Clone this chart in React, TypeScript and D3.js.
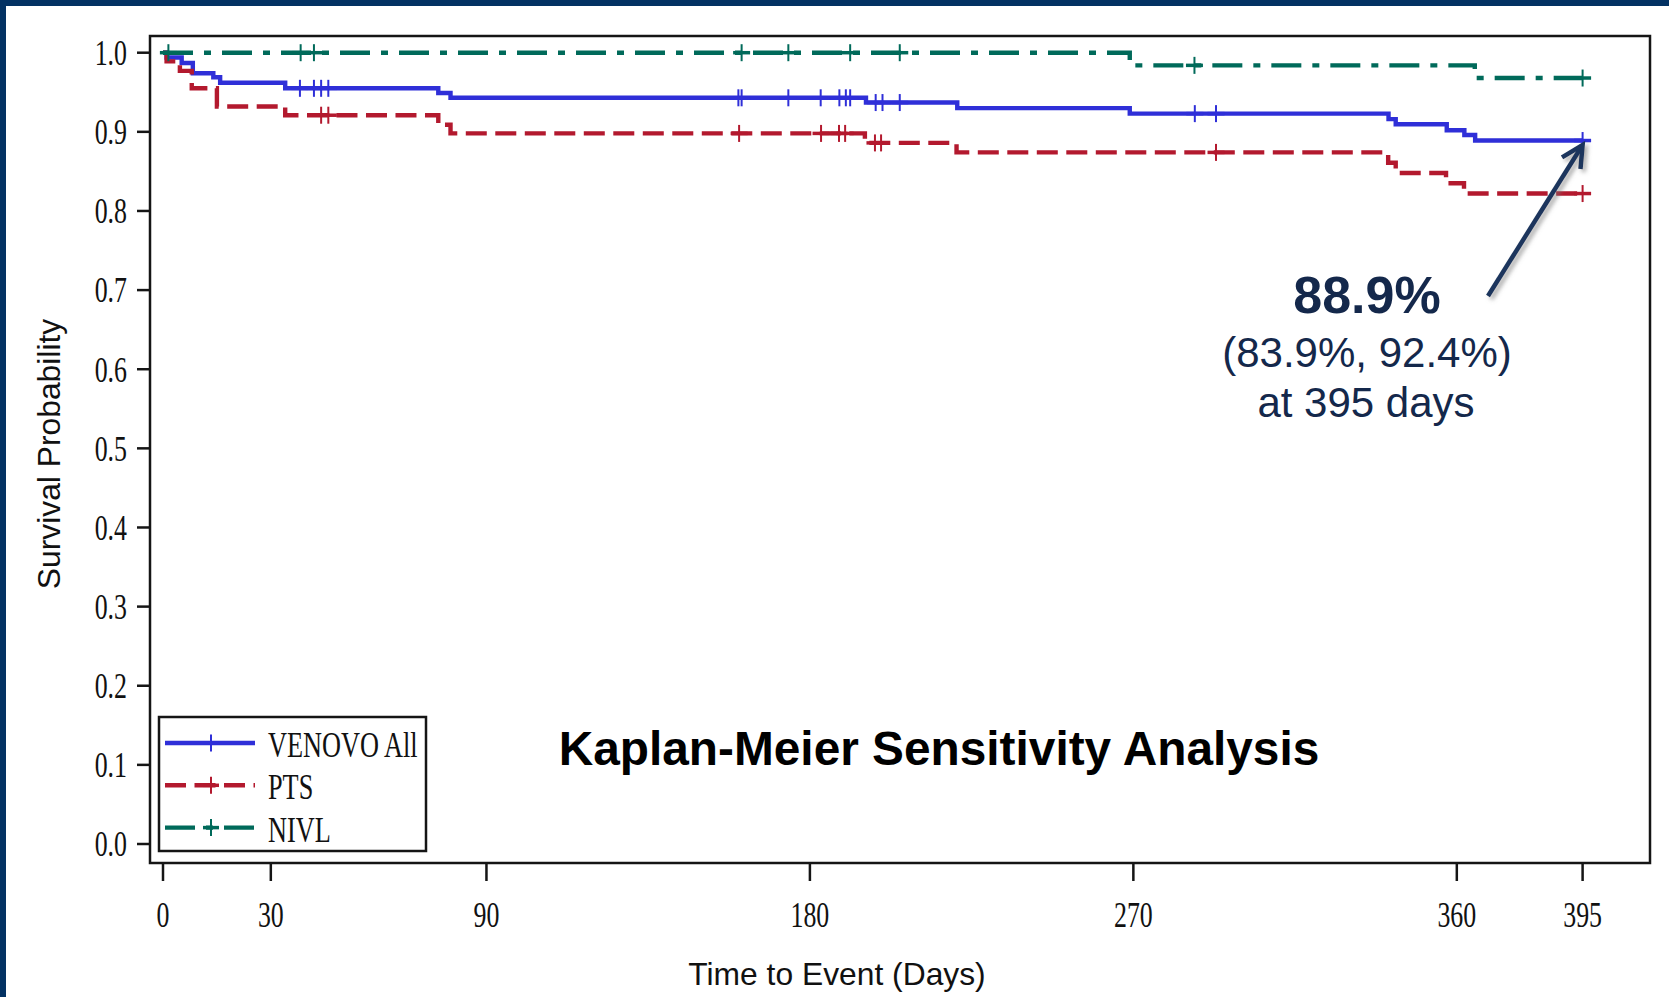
import * as d3 from "d3";
import {useEffect, useRef} from "react";

const W = 1669;
const H = 997;

const xTicks = [0, 30, 90, 180, 270, 360, 395];
const yTicks = [0, 0.1, 0.2, 0.3, 0.4, 0.5, 0.6, 0.7, 0.8, 0.9, 1.0];

// VENOVO All
const venovoDays = [0, 1, 5.2, 8.3, 14, 15.9, 34, 76.6, 80, 195.6, 221, 269, 341, 343, 357.2, 362.1, 365.1, 395];
const venovoSurv = [1, 0.994, 0.987, 0.974, 0.969, 0.962, 0.955, 0.949, 0.943, 0.937, 0.930, 0.923, 0.916, 0.9095, 0.902, 0.896, 0.889, 0.889];
const venovoCensor = [38.1, 42, 44, 46, 160.1, 161, 174, 183, 188.2, 190, 191.2, 198.3, 200.2, 205, 287.1, 293, 395];

// PTS
const ptsDays = [0, 1, 4.7, 8, 15, 34, 76.6, 80, 195.3, 220.8, 340.9, 343, 357, 362, 395];
const ptsSurv = [1, 0.989, 0.977, 0.955, 0.932, 0.921, 0.909, 0.898, 0.886, 0.874, 0.861, 0.848, 0.835, 0.822, 0.822];
const ptsCensor = [44, 46, 160.3, 183.1, 188.1, 189.8, 198.1, 199.8, 293, 395];

// NIVL
const nivlDays = [0, 269, 365, 395];
const nivlSurv = [1, 0.984, 0.968, 0.968];
const nivlCensor = [1.5, 38.3, 42, 161, 174, 191.2, 205, 287, 395];

const series = [
    {name: "VENOVO All", days: venovoDays, surv: venovoSurv, censor: venovoCensor, color: "#2f2fd8", dash: null},
    {name: "PTS", days: ptsDays, surv: ptsSurv, censor: ptsCensor, color: "#b3192e", dash: "21 8.5"},
    {name: "NIVL", days: nivlDays, surv: nivlSurv, censor: nivlCensor, color: "#006a5a", dash: "30 11 7 11"},
];

const App = () => {
    const chartRef = useRef(null);

    useEffect(() => {
        const svg = d3.select(chartRef.current);
        svg.selectAll("*").remove();

        const frame = {left: 150, top: 36, right: 1650, bottom: 863};
        const x = d3.scaleLinear().domain([0, 395]).range([163, 1582.6]);
        const y = d3.scaleLinear().domain([0, 1]).range([844, 52.7]);

        // background
        svg.append("rect").attr("width", W).attr("height", H).attr("fill", "#033263");
        svg.append("rect").attr("x", 6).attr("y", 6).attr("width", W - 6).attr("height", H - 6).attr("fill", "#fff");

        const defs = svg.append("defs");
        defs.append("filter").attr("id", "shadow")
            .attr("x", "-20%").attr("y", "-20%").attr("width", "140%").attr("height", "140%")
            .append("feDropShadow")
            .attr("dx", 3).attr("dy", 3).attr("stdDeviation", 2)
            .attr("flood-color", "#777").attr("flood-opacity", 0.6);

        svg.append("rect")
            .attr("x", frame.left).attr("y", frame.top)
            .attr("width", frame.right - frame.left).attr("height", frame.bottom - frame.top)
            .attr("fill", "none").attr("stroke", "#151515").attr("stroke-width", 2.5);

        // y axis
        const yg = svg.append("g");
        yTicks.forEach(t => {
            yg.append("line")
                .attr("x1", 137).attr("x2", frame.left)
                .attr("y1", y(t)).attr("y2", y(t))
                .attr("stroke", "#151515").attr("stroke-width", 2.5);
            yg.append("text")
                .attr("transform", `translate(127, ${y(t) + 12.3}) scale(0.74, 1)`)
                .attr("text-anchor", "end")
                .attr("font-family", "Liberation Serif, serif")
                .attr("font-size", 35)
                .attr("fill", "#111")
                .text(t.toFixed(1));
        });

        // x axis
        const xg = svg.append("g");
        xTicks.forEach(t => {
            xg.append("line")
                .attr("x1", x(t)).attr("x2", x(t))
                .attr("y1", frame.bottom).attr("y2", 881)
                .attr("stroke", "#151515").attr("stroke-width", 2.5);
            xg.append("text")
                .attr("transform", `translate(${x(t)}, 927) scale(0.74, 1)`)
                .attr("text-anchor", "middle")
                .attr("font-family", "Liberation Serif, serif")
                .attr("font-size", 35)
                .attr("fill", "#111")
                .text(t);
        });

        svg.append("text")
            .attr("x", 837).attr("y", 985)
            .attr("text-anchor", "middle")
            .attr("font-family", "Liberation Sans, Arial, sans-serif")
            .attr("font-size", 31.8)
            .attr("fill", "#111")
            .text("Time to Event (Days)");

        svg.append("text")
            .attr("transform", "translate(60, 454) rotate(-90)")
            .attr("text-anchor", "middle")
            .attr("font-family", "Liberation Sans, Arial, sans-serif")
            .attr("font-size", 31.8)
            .attr("fill", "#111")
            .text("Survival Probability");

        // curves
        const line = d3.line()
            .x(d => x(d[0]))
            .y(d => y(d[1]))
            .curve(d3.curveStepAfter);

        const survAt = (s, t) => {
            const i = d3.bisectRight(s.days, t) - 1;
            return s.surv[Math.max(0, i)];
        };

        series.forEach(s => {
            const pts = s.days.map((d, i) => [d, s.surv[i]]);
            svg.append("path")
                .attr("d", line(pts))
                .attr("fill", "none")
                .attr("stroke", s.color)
                .attr("stroke-width", 4.4)
                .attr("stroke-dasharray", s.dash)
                .attr("stroke-linejoin", "miter");

            const marks = svg.append("g")
                .attr("stroke", s.color)
                .attr("stroke-width", 2);
            s.censor.forEach(c => {
                const cx = x(c), cy = y(survAt(s, c));
                marks.append("line").attr("x1", cx).attr("x2", cx).attr("y1", cy - 8.5).attr("y2", cy + 8.5);
                marks.append("line").attr("x1", cx - 8.5).attr("x2", cx + 8.5).attr("y1", cy).attr("y2", cy).attr("stroke-width", 3.5);
            });
        });

        // legend
        const lg = svg.append("g");
        lg.append("rect")
            .attr("x", 159).attr("y", 717).attr("width", 267).attr("height", 134)
            .attr("fill", "#fff").attr("stroke", "#151515").attr("stroke-width", 2.5);
        series.forEach((s, i) => {
            const ly = 743 + i * 42.3;
            lg.append("line")
                .attr("x1", 165).attr("x2", 255).attr("y1", ly).attr("y2", ly)
                .attr("stroke", s.color).attr("stroke-width", 4.4)
                .attr("stroke-dasharray", s.dash);
            lg.append("line")
                .attr("x1", 211).attr("x2", 211).attr("y1", ly - 8.5).attr("y2", ly + 8.5)
                .attr("stroke", s.color).attr("stroke-width", 2);
            lg.append("line")
                .attr("x1", 203).attr("x2", 219).attr("y1", ly).attr("y2", ly)
                .attr("stroke", s.color).attr("stroke-width", 3.5);
            lg.append("text")
                .attr("transform", `translate(268, ${ly + 14}) scale(0.73, 1)`)
                .attr("font-family", "Liberation Serif, serif")
                .attr("font-size", 36)
                .attr("fill", "#111")
                .text(s.name);
        });

        // title inside plot
        svg.append("text")
            .attr("x", 939).attr("y", 765)
            .attr("text-anchor", "middle")
            .attr("font-family", "Liberation Sans, Arial, sans-serif")
            .attr("font-weight", "bold")
            .attr("font-size", 47.8)
            .attr("fill", "#000")
            .text("Kaplan-Meier Sensitivity Analysis");

        // annotation
        const navy = "#14284b";
        const ann = svg.append("g")
            .attr("text-anchor", "middle")
            .attr("font-family", "Liberation Sans, Arial, sans-serif")
            .attr("fill", navy);
        ann.append("text").attr("x", 1367).attr("y", 313).attr("font-weight", "bold").attr("font-size", 52).text("88.9%");
        ann.append("text").attr("x", 1367).attr("y", 367).attr("font-size", 42).text("(83.9%, 92.4%)");
        ann.append("text").attr("x", 1366).attr("y", 416.5).attr("font-size", 42).text("at 395 days");

        // arrow to the 395-day estimate
        const tip = [x(395), y(0.889) + 4.5];
        const start = [1488, 296];
        const ang = Math.atan2(start[1] - tip[1], start[0] - tip[0]);
        const arm = 24;
        const spread = 27 * Math.PI / 180;
        const a1 = [tip[0] + arm * Math.cos(ang + spread), tip[1] + arm * Math.sin(ang + spread)];
        const a2 = [tip[0] + arm * Math.cos(ang - spread), tip[1] + arm * Math.sin(ang - spread)];
        const arrow = svg.append("g")
            .attr("stroke", "#1b365d")
            .attr("stroke-width", 4.5)
            .attr("fill", "none")
            .attr("filter", "url(#shadow)");
        arrow.append("line")
            .attr("x1", start[0]).attr("y1", start[1])
            .attr("x2", tip[0] - 1.5 * Math.cos(ang + Math.PI)).attr("y2", tip[1] - 1.5 * Math.sin(ang + Math.PI));
        arrow.append("path")
            .attr("d", `M${a1[0]},${a1[1]}L${tip[0]},${tip[1]}L${a2[0]},${a2[1]}`)
            .attr("stroke-linejoin", "miter");
    }, []);

    return (
        <svg ref={chartRef} width={W} height={H}
             style={{position: "absolute", left: 0, top: 0, display: "block"}}></svg>
    );
};

export default App;
